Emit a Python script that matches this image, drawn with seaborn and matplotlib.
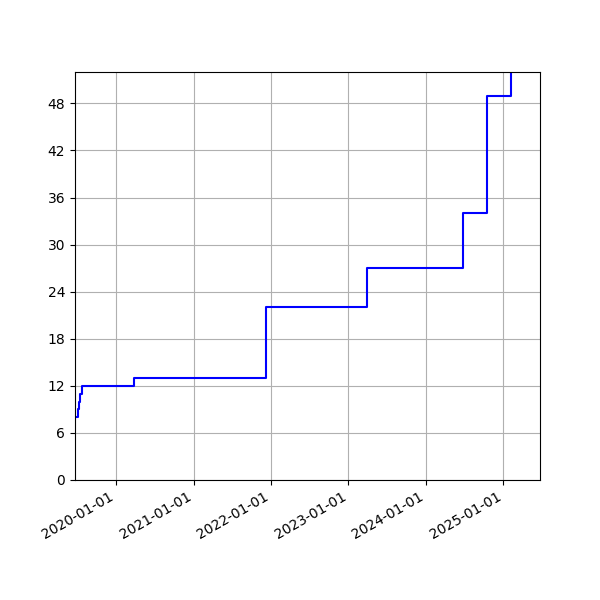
import pandas as pd
import seaborn as sns
import matplotlib
matplotlib.use("Agg")
import matplotlib.pyplot as plt
import matplotlib.dates as mdates
from matplotlib.ticker import MultipleLocator

dates = ["2019-06-22", "2019-07-04", "2019-07-12", "2019-07-16", "2019-07-23",
         "2020-03-24", "2021-12-11", "2023-03-28", "2024-06-26", "2024-10-18",
         "2025-02-05", "2025-06-23"]
counts = [8, 9, 10, 11, 12, 13, 22, 27, 34, 49, 56, 56]

df = pd.DataFrame({"date": pd.to_datetime(dates), "count": counts})

fig, ax = plt.subplots(figsize=(6, 6), dpi=100)
sns.lineplot(data=df, x="date", y="count", ax=ax, color="blue",
             drawstyle="steps-post", estimator=None, linewidth=1.5)

ax.set_xlim(pd.Timestamp("2019-06-22"), pd.Timestamp("2025-06-23"))
ax.set_ylim(0, 52)
ax.yaxis.set_major_locator(MultipleLocator(6))
ax.xaxis.set_major_locator(mdates.YearLocator())
ax.xaxis.set_major_formatter(mdates.DateFormatter("%Y-%m-%d"))
ax.set_xlabel("")
ax.set_ylabel("")
ax.grid(True)
fig.autofmt_xdate()

plt.savefig("out.png")
